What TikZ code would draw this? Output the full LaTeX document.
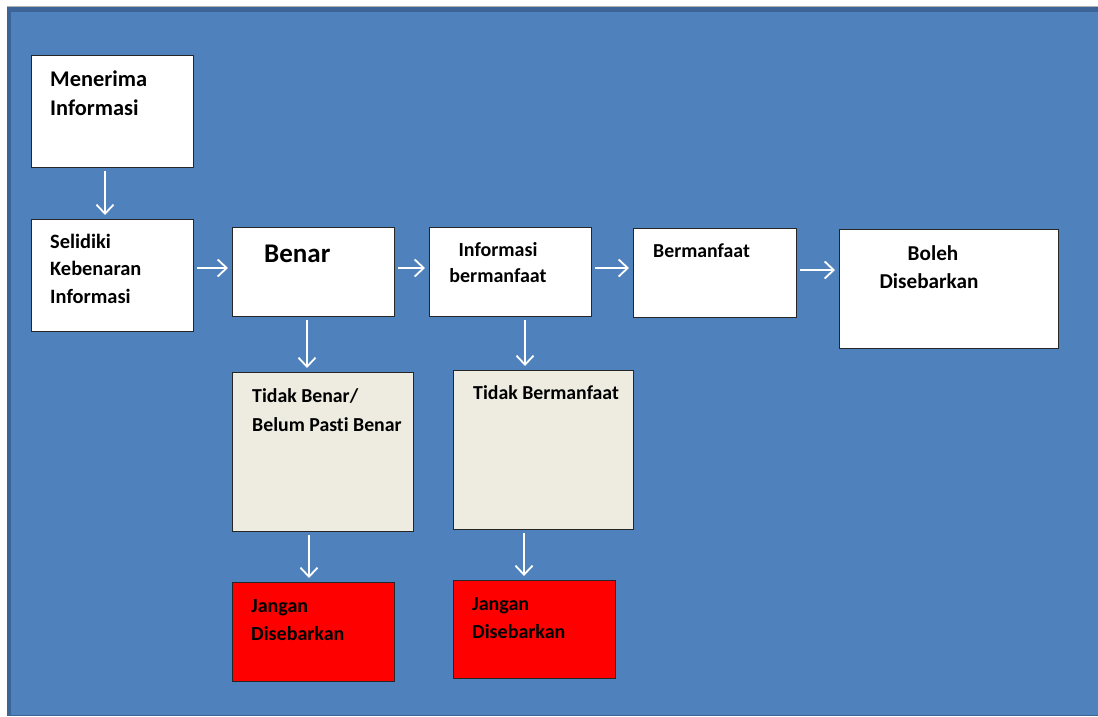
\documentclass[tikz,border=0pt]{standalone}
\usepackage{fontspec}
\setmainfont{Carlito}[Ligatures=NoCommon]
\usetikzlibrary{arrows.meta}
\definecolor{bgblue}{HTML}{4F81BD}
\definecolor{bgdark}{HTML}{3C6496}
\definecolor{tan}{HTML}{EEECE1}
\tikzset{
  box/.style={draw=black!85, line width=1.3pt, fill=white, anchor=north west, inner sep=0pt},
  tanbox/.style={box, fill=tan},
  redbox/.style={box, fill=red},
  lbl/.style={anchor=base west, inner sep=0pt, align=left, font=\bfseries\fontsize{20}{27.5}\selectfont},
  arr/.style={draw=white, line width=1.8pt, -{Straight Barb[length=9pt,width=17pt,line width=1.8pt]}, shorten <=3pt, shorten >=4pt}
}
\begin{document}
\begin{tikzpicture}[x=1pt,y=-1pt]
\useasboundingbox (0,0) rectangle (1098,716);
% background
\fill[bgblue] (7,7) rectangle (1098,716);
\fill[bgdark] (7,7) rectangle (1098,12);
\fill[bgdark] (7,7) rectangle (11,716);
\draw[bgdark, line width=1pt] (7,715.5) -- (1098,715.5);
\draw[gray!60, line width=0.8pt] (7,6.6) -- (1098,6.6);
% boxes
\node[box, minimum width=162pt, minimum height=112pt] (men) at (31,55) {};
\node[box, minimum width=162pt, minimum height=112pt] (sel) at (31,219) {};
\node[box, minimum width=162pt, minimum height=89pt] (ben) at (232,227) {};
\node[box, minimum width=162pt, minimum height=89pt] (inf) at (429,227) {};
\node[box, minimum width=163pt, minimum height=89pt] (ber) at (633,228) {};
\node[box, minimum width=219pt, minimum height=119pt] (bol) at (839,229) {};
\node[tanbox, minimum width=181pt, minimum height=159pt] (tb) at (232,372) {};
\node[tanbox, minimum width=180pt, minimum height=159pt] (tbm) at (453,370) {};
\node[redbox, minimum width=162pt, minimum height=99pt] (jg1) at (232,582) {};
\node[redbox, minimum width=162pt, minimum height=98pt] (jg2) at (453,580) {};
% labels (anchor = baseline of the last line)
\node[lbl, font=\bfseries\fontsize{22.4}{29}\selectfont] (tmen) at (50,115) {Menerima\\Informasi};
\node[lbl, font=\bfseries\fontsize{20.4}{27.5}\selectfont] (tsel) at (50,303) {Selidiki\\Kebenaran\\Informasi};
\node[lbl, font=\bfseries\fontsize{27}{29}\selectfont] (tben) at (264,262) {Benar};
\node[lbl, align=center, anchor=base, font=\bfseries\fontsize{20}{26}\selectfont] (tinf) at (498,282) {Informasi\\bermanfaat};
\node[lbl, font=\bfseries\fontsize{19.8}{26}\selectfont] (tber) at (653,257) {Bermanfaat};
\node[lbl, align=center, anchor=base, font=\bfseries\fontsize{21.2}{28}\selectfont] (tbol) at (929,288) {\hspace*{8pt}Boleh\\Disebarkan};
\node[lbl, font=\bfseries\fontsize{19.8}{29}\selectfont] (ttb) at (252,431) {Tidak Benar/\\Belum Pasti Benar};
\node[lbl, font=\bfseries\fontsize{19.8}{29}\selectfont] (ttbm) at (473,399) {Tidak Bermanfaat};
\node[lbl, font=\bfseries\fontsize{20}{28}\selectfont] (tjg1) at (251,640) {Jangan\\Disebarkan};
\node[lbl, font=\bfseries\fontsize{20}{28}\selectfont] (tjg2) at (472,638) {Jangan\\Disebarkan};
% arrows
\draw[arr] (men.south -| 105,0) -- (sel.north -| 105,0);
\draw[arr] (sel.east |- 0,268) -- (ben.west |- 0,268);
\draw[arr] (ben.east |- 0,268) -- (inf.west |- 0,268);
\draw[arr] (inf.east |- 0,268) -- (ber.west |- 0,268);
\draw[arr] (ber.east |- 0,270) -- (bol.west |- 0,270);
\draw[arr] (ben.south -| 307,0) -- (tb.north -| 307,0);
\draw[arr] (inf.south -| 525,0) -- (tbm.north -| 525,0);
\draw[arr] (tb.south -| 309,0) -- (jg1.north -| 309,0);
\draw[arr] (tbm.south -| 524,0) -- (jg2.north -| 524,0);
\end{tikzpicture}
\end{document}
